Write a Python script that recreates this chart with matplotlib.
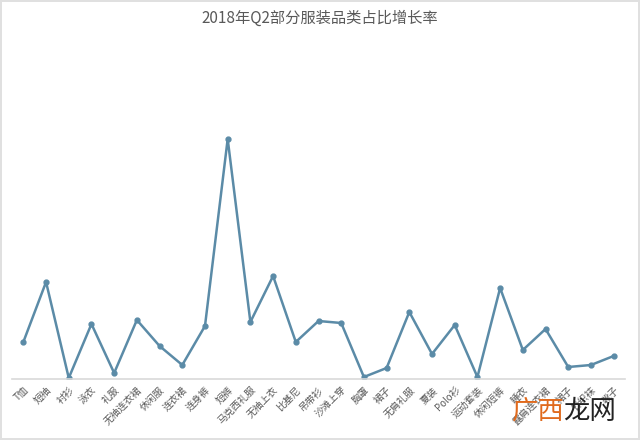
import matplotlib
matplotlib.use('Agg')
import matplotlib.pyplot as plt

plt.rcParams['font.family'] = ['Noto Sans CJK SC', 'DejaVu Sans']

# categories and growth values (relative units)
categories = ['T恤', '短袖', '衬衫', '泳衣', '礼服', '无袖连衣裙', '休闲服', '连衣裙', '连身裤',
              '短裤', '马克西礼服', '无袖上衣', '比基尼', '吊带衫', '沙滩上穿', '胸罩', '裙子',
              '无肩礼服', '夏装', 'Polo衫', '运动套装', '休闲短裤', '睡衣', '露肩连衣裙',
              '裙子', '针织袜', '靴子']
growth = [37, 97, 1, 55, 6, 59, 33, 14, 53, 240, 57, 103, 37, 58, 56, 2, 11,
          67, 25, 54, 2, 91, 29, 50, 12, 14, 23]

fig = plt.figure(figsize=(6.4, 4.4), dpi=100)
fig.patch.set_edgecolor('#e0e0e0')
fig.patch.set_linewidth(1.5)
ax = fig.add_axes([12 / 640, 61 / 440, 613 / 640, 339 / 440])

x = range(len(categories))
ax.plot(x, growth, color='#5b8ba7', linewidth=1.8, marker='o', markersize=3.5)

ax.set_xlim(-0.5, len(categories) - 0.5)
ax.set_ylim(0, 339)
ax.set_xticks(list(x))
ax.set_xticklabels(categories, rotation=45, ha='right', rotation_mode='anchor',
                   fontsize=7, color='#595959')
ax.tick_params(axis='x', length=0, pad=4)
ax.set_yticks([])
for side in ['top', 'right', 'left']:
    ax.spines[side].set_visible(False)
ax.spines['bottom'].set_color('#d9d9d9')
ax.spines['bottom'].set_linewidth(1.2)

fig.text(0.5, 0.958, '2018年Q2部分服装品类占比增长率', ha='center', va='center',
         fontsize=11, color='#595959')

# watermark
fig.text(0.800, 0.065, '广西', fontsize=19, color='#e06a1d', ha='left', va='center')
fig.text(0.880, 0.065, '龙网', fontsize=19, color='#222222', ha='left', va='center')

fig.savefig('out.png', dpi=100)
